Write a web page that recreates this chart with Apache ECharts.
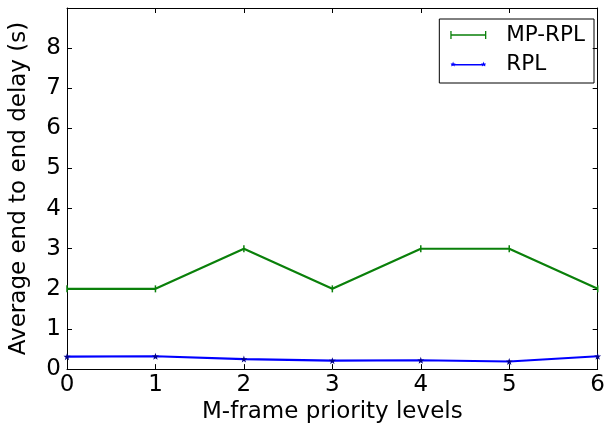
<!DOCTYPE html>
<html><head><meta charset="utf-8">
<script src="https://cdn.jsdelivr.net/npm/echarts@6/dist/echarts.min.js"></script>
<style>html,body{margin:0;padding:0;background:#fff}#c{width:608px;height:429px}</style>
</head><body><div id="c"></div>
<script>
const levels = [0, 1, 2, 3, 4, 5, 6];
const mpRpl = [2, 2, 3, 2, 3, 3, 2];
const rpl = [0.31, 0.32, 0.25, 0.21, 0.22, 0.19, 0.32];
const yTicks = [0, 1, 2, 3, 4, 5, 6, 7, 8];
const seriesNames = ['MP-RPL', 'RPL'];
const xTitle = 'M-frame priority levels';
const yTitle = 'Average end to end delay (s)';

const star = 'path://M0,-10 L2.35,-3.24 L9.51,-3.09 L3.8,1.24 L5.88,8.09 L0,4 L-5.88,8.09 L-3.8,1.24 L-9.51,-3.09 L-2.35,-3.24 Z';
const plusIcon = 'path://M0,3.2 L36,3.2 L36,4.8 L0,4.8 Z M0,0 L1.3,0 L1.3,8 L0,8 Z M34.7,0 L36,0 L36,8 L34.7,8 Z';
const starIcon = 'path://M0,3.2 L36,3.2 L36,4.8 L0,4.8 Z M2,0.5 L2.7,2.6 L4.9,2.6 L3.1,3.9 L3.8,6 L2,4.7 L0.2,6 L0.9,3.9 L-0.9,2.6 L1.3,2.6 Z M34,0.5 L34.7,2.6 L36.9,2.6 L35.1,3.9 L35.8,6 L34,4.7 L32.2,6 L32.9,3.9 L31.1,2.6 L33.3,2.6 Z';
const font = 'DejaVu Sans';
const chart = echarts.init(document.getElementById('c'), null, {renderer: 'canvas'});
const pair = (xs, ys) => xs.map((x, i) => [x, ys[i]]);
const tickStyle = {show: true, inside: true, length: 5, lineStyle: {color: '#000', width: 1}};
const lineAx = {show: true, onZero: false, lineStyle: {color: '#000', width: 1}};
chart.setOption({
  animation: false,
  backgroundColor: '#fff',
  textStyle: {fontFamily: font},
  grid: {left: 64, top: 8, width: 540, height: 362},
  legend: {
    right: 14, top: 19, orient: 'vertical',
    borderColor: '#000', borderWidth: 1, padding: [5, 9, 8, 11],
    itemWidth: 36, itemHeight: 8, itemGap: 7,
    textStyle: {fontFamily: font, fontSize: 21.5, color: '#000', padding: [0, 0, 0, 15]},
    data: [
      {name: seriesNames[0], icon: plusIcon, itemStyle: {color: '#0a800a'}},
      {name: seriesNames[1], icon: starIcon, itemStyle: {color: '#0000ff'}}
    ]
  },
  xAxis: [{
    type: 'value', min: 0, max: 6, interval: 1,
    name: xTitle, nameLocation: 'middle', nameGap: 30,
    nameTextStyle: {fontFamily: font, fontSize: 23, color: '#000'},
    axisLine: lineAx,
    axisTick: tickStyle,
    axisLabel: {fontFamily: font, fontSize: 23, color: '#000', margin: 4},
    splitLine: {show: false}
  }, {
    type: 'value', min: 0, max: 6, interval: 1, position: 'top',
    axisLine: lineAx,
    axisTick: tickStyle, axisLabel: {show: false}, splitLine: {show: false}
  }],
  yAxis: [{
    type: 'value', min: 0, max: 9, interval: 1,
    name: yTitle, nameLocation: 'middle', nameGap: 36,
    nameTextStyle: {fontFamily: font, fontSize: 23, color: '#000'},
    axisLine: lineAx,
    axisTick: tickStyle,
    axisLabel: {fontFamily: font, fontSize: 23, color: '#000', margin: 6,
      formatter: v => yTicks.includes(v) ? String(v) : ''},
    splitLine: {show: false}
  }, {
    type: 'value', min: 0, max: 9, interval: 1, position: 'right',
    axisLine: lineAx,
    axisTick: tickStyle, axisLabel: {show: false}, splitLine: {show: false}
  }],
  series: [{
    name: seriesNames[0], type: 'line', data: pair(levels, mpRpl),
    lineStyle: {color: '#0a800a', width: 2.2},
    itemStyle: {color: '#0a800a'},
    symbol: 'rect', symbolSize: [1.5, 7], showAllSymbol: true
  }, {
    name: seriesNames[1], type: 'line', data: pair(levels, rpl),
    lineStyle: {color: '#0000ff', width: 2.2},
    itemStyle: {color: '#00008b'},
    symbol: star, symbolSize: 7, showAllSymbol: true
  }]
});
</script></body></html>
